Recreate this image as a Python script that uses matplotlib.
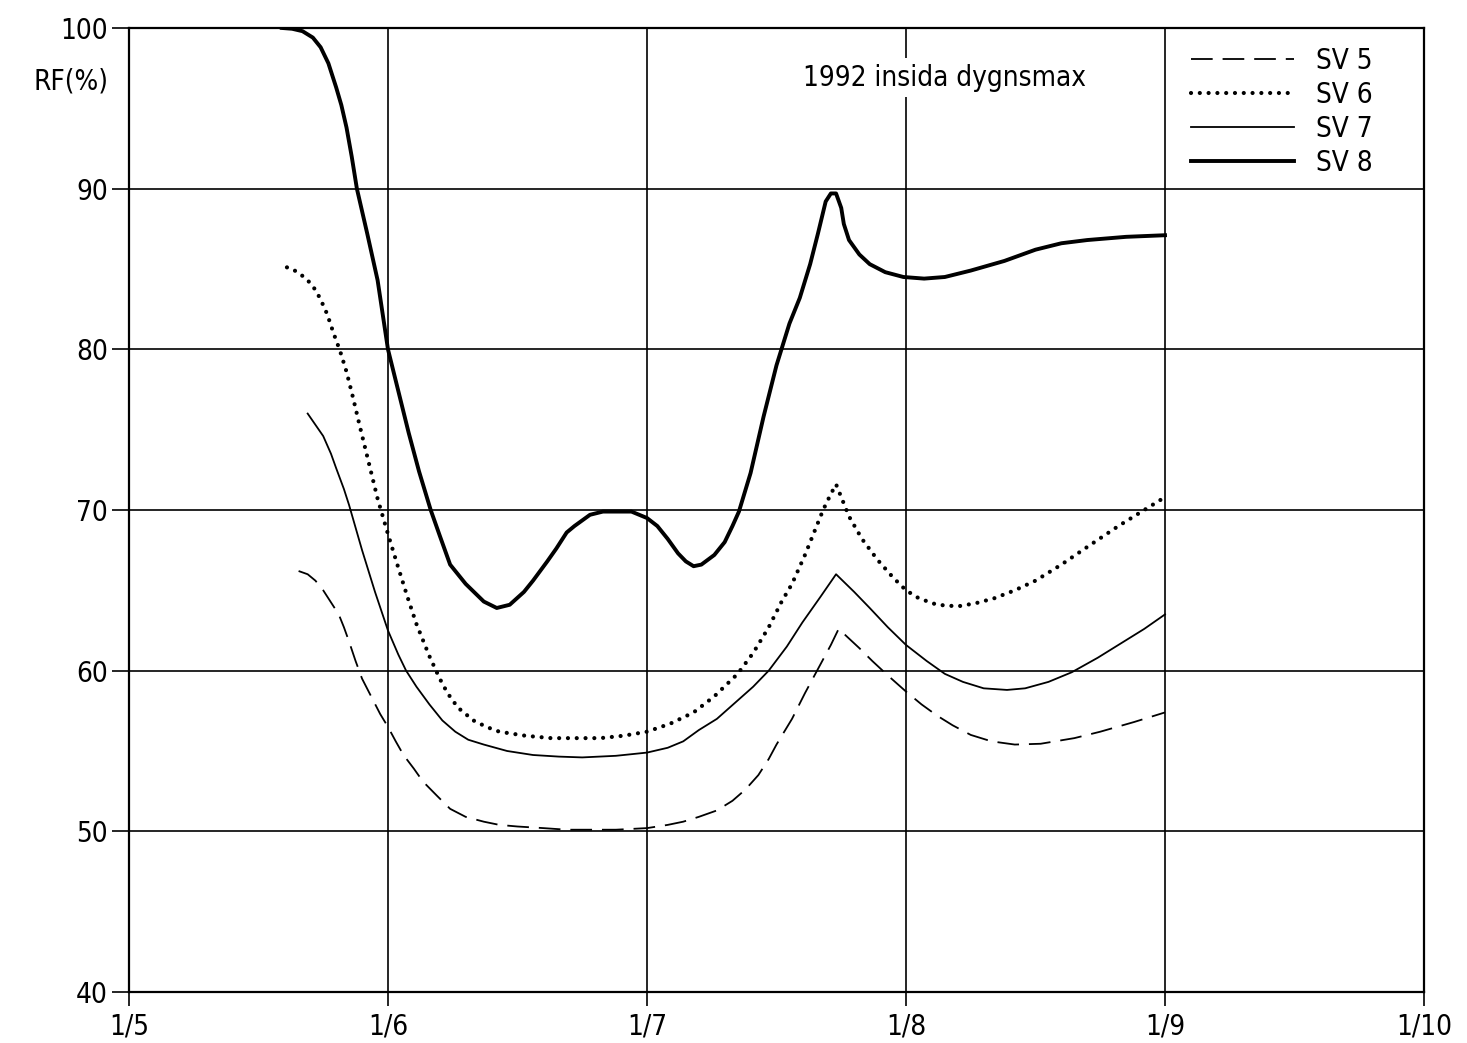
import matplotlib
matplotlib.use("Agg")
import matplotlib.pyplot as plt

# x in months after 1/5 (0 = 1/5, 1 = 1/6, ...), y = RF (%)
sv5_x = [0.655, 0.69, 0.72, 0.75, 0.77, 0.79, 0.81, 0.83, 0.85, 0.875, 0.90, 0.935, 0.97, 1.00, 1.03, 1.06,
         1.10, 1.135, 1.19, 1.24, 1.30, 1.37, 1.43, 1.50, 1.60, 1.69, 1.80, 1.88, 2.00, 2.08, 2.14, 2.20,
         2.27, 2.33, 2.38, 2.43, 2.47, 2.50, 2.56, 2.61, 2.67, 2.71, 2.74, 2.78, 2.82, 2.87, 2.93, 3.00,
         3.06, 3.12, 3.18, 3.25, 3.33, 3.42, 3.52, 3.65, 3.75, 3.88, 4.00]
sv5_y = [66.2, 66.0, 65.6, 65.0, 64.5, 64.0, 63.5, 62.7, 61.8, 60.6, 59.5, 58.4, 57.3, 56.5, 55.6, 54.75,
         53.9, 53.1, 52.2, 51.4, 50.9, 50.6, 50.4, 50.3, 50.2, 50.1, 50.1, 50.1, 50.2, 50.4, 50.6, 50.9,
         51.3, 51.9, 52.6, 53.5, 54.5, 55.4, 57.0, 58.6, 60.4, 61.6, 62.6, 62.0, 61.4, 60.6, 59.7, 58.7,
         57.9, 57.2, 56.6, 56.0, 55.6, 55.4, 55.45, 55.8, 56.2, 56.8, 57.4]

sv6_x = [0.61, 0.63, 0.66, 0.69, 0.72, 0.74, 0.765, 0.79, 0.815, 0.84, 0.865, 0.89, 0.925, 0.96, 1.00,
         1.04, 1.075, 1.11, 1.16, 1.20, 1.23, 1.27, 1.33, 1.38, 1.43, 1.53, 1.63, 1.72, 1.82, 1.91, 2.00,
         2.09, 2.18, 2.26, 2.35, 2.41, 2.47, 2.52, 2.56, 2.61, 2.65, 2.68, 2.71, 2.73, 2.755, 2.78, 2.83,
         2.89, 2.95, 3.00, 3.05, 3.12, 3.20, 3.27, 3.34, 3.42, 3.50, 3.60, 3.70, 3.82, 3.91, 4.00]
sv6_y = [85.1, 85.0, 84.7, 84.3, 83.7, 83.1, 82.2, 81.0, 79.9, 78.6, 77.0, 75.3, 73.0, 70.7, 68.5,
         66.4, 64.6, 62.9, 60.9, 59.5, 58.6, 57.7, 56.9, 56.5, 56.2, 55.95, 55.8, 55.8, 55.8, 55.95, 56.2,
         56.7, 57.4, 58.4, 59.8, 61.1, 62.7, 64.3, 65.4, 67.2, 68.8, 70.0, 71.0, 71.6, 70.6, 69.6, 68.2,
         66.9, 65.8, 65.0, 64.5, 64.1, 64.0, 64.2, 64.5, 65.0, 65.6, 66.6, 67.7, 69.0, 69.9, 70.8]

sv7_x = [0.69, 0.72, 0.75, 0.78, 0.80, 0.83, 0.85, 0.875, 0.90, 0.925, 0.95, 0.975, 1.00, 1.04, 1.07,
         1.11, 1.16, 1.21, 1.26, 1.31, 1.37, 1.46, 1.56, 1.66, 1.75, 1.88, 2.00, 2.08, 2.14, 2.20, 2.27,
         2.34, 2.41, 2.47, 2.54, 2.60, 2.67, 2.73, 2.80, 2.86, 2.93, 3.00, 3.08, 3.15, 3.22, 3.30, 3.39,
         3.46, 3.55, 3.64, 3.74, 3.84, 3.92, 4.00]
sv7_y = [76.0, 75.3, 74.6, 73.5, 72.6, 71.3, 70.3, 68.9, 67.5, 66.2, 64.9, 63.7, 62.5, 61.0, 60.0,
         59.0, 57.9, 56.9, 56.2, 55.7, 55.4, 55.0, 54.75, 54.65, 54.6, 54.7, 54.9, 55.2, 55.6, 56.3, 57.0,
         58.0, 59.0, 60.0, 61.5, 63.0, 64.6, 66.0, 64.9, 63.9, 62.7, 61.6, 60.6, 59.8, 59.3, 58.9, 58.8,
         58.9, 59.3, 59.9, 60.8, 61.8, 62.6, 63.5]

sv8_x = [0.59, 0.63, 0.67, 0.71, 0.74, 0.77, 0.80, 0.82, 0.84, 0.86, 0.88, 0.92, 0.96, 1.00, 1.04, 1.08,
         1.12, 1.165, 1.20, 1.24, 1.30, 1.37, 1.42, 1.47, 1.525, 1.56, 1.615, 1.65, 1.69, 1.72, 1.78,
         1.83, 1.87, 1.94, 2.00, 2.04, 2.08, 2.12, 2.15, 2.18, 2.21, 2.26, 2.30, 2.33, 2.355, 2.40, 2.45,
         2.50, 2.55, 2.59, 2.63, 2.66, 2.69, 2.71, 2.73, 2.75, 2.76, 2.78, 2.82, 2.86, 2.92, 2.99, 3.07,
         3.15, 3.25, 3.38, 3.50, 3.60, 3.70, 3.85, 4.00]
sv8_y = [100.0, 99.95, 99.8, 99.4, 98.8, 97.8, 96.3, 95.2, 93.8, 92.0, 90.0, 87.2, 84.3, 80.0, 77.4, 74.8,
         72.4, 70.0, 68.4, 66.6, 65.4, 64.3, 63.9, 64.1, 64.9, 65.6, 66.8, 67.6, 68.6, 69.0, 69.7,
         69.9, 69.9, 69.9, 69.5, 69.0, 68.2, 67.3, 66.8, 66.5, 66.6, 67.2, 68.0, 69.0, 69.9, 72.3, 75.8,
         79.0, 81.6, 83.2, 85.3, 87.2, 89.2, 89.7, 89.7, 88.8, 87.8, 86.8, 85.9, 85.3, 84.8, 84.5, 84.4,
         84.5, 84.9, 85.5, 86.2, 86.6, 86.8, 87.0, 87.1]

x_ticks = [0, 1, 2, 3, 4, 5]
x_labels = ["1/5", "1/6", "1/7", "1/8", "1/9", "1/10"]
y_ticks = [40, 50, 60, 70, 80, 90, 100]

plt.rcParams["font.family"] = ["DejaVu Sans"]
plt.rcParams["font.stretch"] = "condensed"

fig = plt.figure(figsize=(14.67, 10.43), dpi=100)
ax = fig.add_axes([0.0879, 0.0489, 0.8828, 0.9243])

ax.plot(sv5_x, sv5_y, color="black", lw=1.3, linestyle=(0, (12, 5.5)), label="SV 5")
ax.plot(sv6_x, sv6_y, color="black", lw=3.0, linestyle=(0, (0.01, 2.1)),
        dash_capstyle="round", label="SV 6")
ax.plot(sv7_x, sv7_y, color="black", lw=1.3, label="SV 7")
ax.plot(sv8_x, sv8_y, color="black", lw=2.8, solid_joinstyle="round", label="SV 8")

ax.set_xlim(0, 5)
ax.set_ylim(40, 100)
ax.set_xticks(x_ticks)
ax.set_xticklabels(x_labels)
ax.set_yticks(y_ticks)
ax.grid(True, color="black", lw=1.2)
ax.set_axisbelow(True)
for s in ax.spines.values():
    s.set_linewidth(1.6)
ax.tick_params(axis="both", labelsize=20, width=1.2, color="black")
ax.tick_params(axis="x", length=10, pad=5)
ax.tick_params(axis="y", length=12, pad=3)

ax.text(-0.016, 0.944, "RF(%)", transform=ax.transAxes, ha="right", va="center", fontsize=20)
ax.text(3.15, 96.9, "1992 insida dygnsmax", ha="center", va="center", fontsize=20,
        bbox=dict(facecolor="white", edgecolor="none", pad=4))

ax.legend(loc="upper left", bbox_to_anchor=(0.8116, 0.992), frameon=False, fontsize=20,
          handlelength=3.7, handletextpad=0.8, labelspacing=0.22, borderaxespad=0)

fig.savefig("out.png", dpi=100)
